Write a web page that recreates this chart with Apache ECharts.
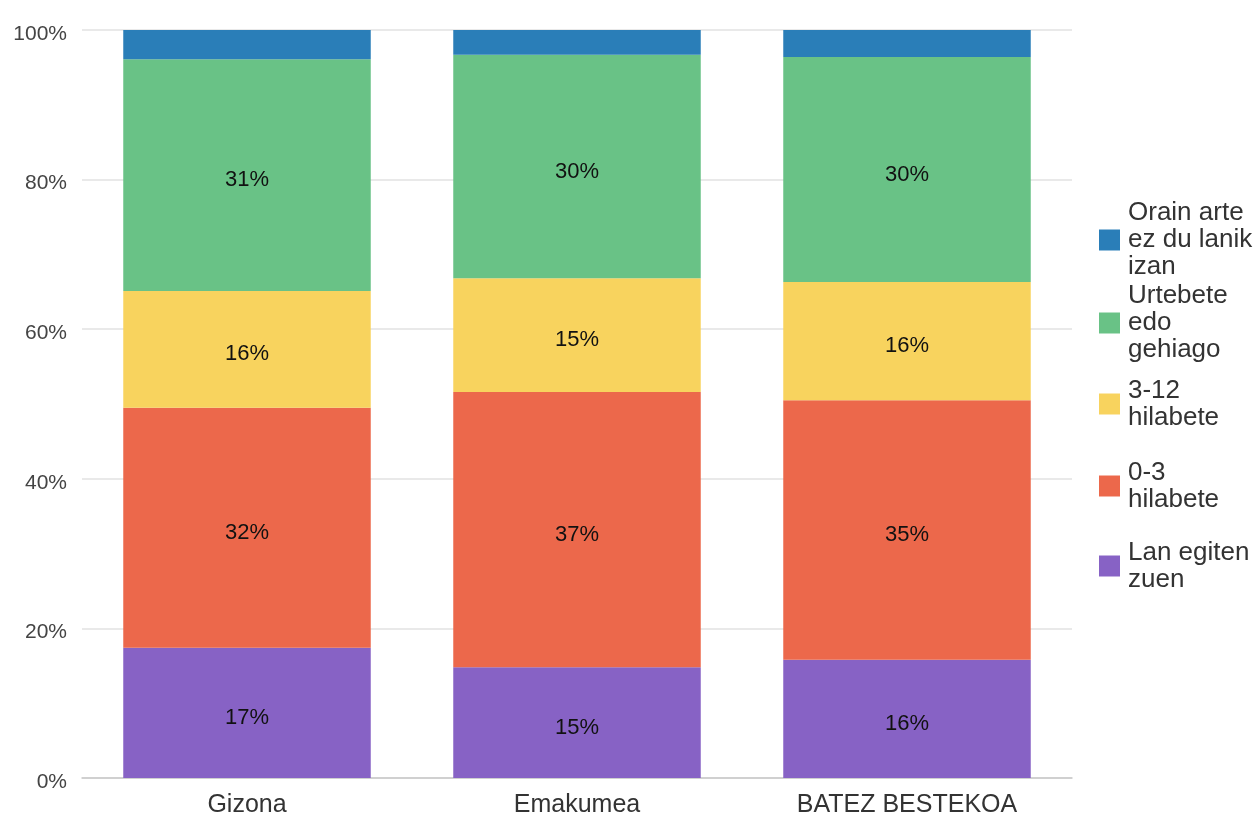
<!DOCTYPE html>
<html>
<head>
<meta charset="utf-8">
<script src="https://cdn.jsdelivr.net/npm/echarts@6/dist/echarts.min.js"></script>
<style>
  html, body { margin: 0; padding: 0; background: #fff; }
  #main { width: 1256px; height: 814px; }
</style>
</head>
<body>
<div id="main"></div>
<script>
// kategoriak
var categories = ["Gizona", "Emakumea", "BATEZ BESTEKOA"];
// serieak (behetik gora)
var seriesNames = ["Lan egiten zuen", "0-3 hilabete", "3-12 hilabete", "Urtebete edo gehiago", "Orain arte ez du lanik izan"];
var legendLabels = ["Lan egiten\nzuen", "0-3\nhilabete", "3-12\nhilabete", "Urtebete\nedo\ngehiago", "Orain arte\nez du lanik\nizan"];
var lanEgitenZuen = [17.4, 14.8, 15.8];
var hilabete0_3 = [32.1, 36.8, 34.7];
var hilabete3_12 = [15.6, 15.2, 15.8];
var urtebeteEdoGehiago = [31.0, 29.9, 30.1];
var orainArte = [3.9, 3.3, 3.6];
var yTicks = [0, 20, 40, 60, 80, 100];

var colors = ["#8762c5", "#ec684b", "#f8d35e", "#69c286", "#2a7eb8"];
var values = [lanEgitenZuen, hilabete0_3, hilabete3_12, urtebeteEdoGehiago, orainArte];

var myChart = echarts.init(document.getElementById("main"));

var font = "Liberation Sans, Arial, sans-serif";
var lineH = 26.7;

// legenda: goitik behera, urdina lehenik
var legendOrder = [4, 3, 2, 1, 0];
var legendCenters = [240, 323, 404, 486, 566];
var legends = legendOrder.map(function (idx, i) {
  var lines = legendLabels[idx].split("\n").length;
  return {
    data: [seriesNames[idx]],
    left: 1099,
    top: legendCenters[i] - (lines * lineH) / 2 - 3,
    orient: "vertical",
    itemWidth: 21,
    itemHeight: 21,
    icon: "rect",
    selectedMode: false,
    padding: 0,
    itemGap: 0,
    formatter: function (name) {
      return legendLabels[seriesNames.indexOf(name)];
    },
    textStyle: {
      fontFamily: font,
      fontSize: 26,
      lineHeight: lineH,
      color: "#333",
      padding: [6, 0, 0, 3]
    }
  };
});

var series = seriesNames.map(function (name, i) {
  return {
    name: name,
    type: "bar",
    stack: "total",
    barWidth: "75%",
    itemStyle: { color: colors[i] },
    label: {
      show: i !== 4,
      position: "inside",
      fontFamily: font,
      fontSize: 22,
      color: "#111",
      offset: [0, 5],
      formatter: function (p) {
        return Math.round(p.value) + "%";
      }
    },
    data: values[i]
  };
});

myChart.setOption({
  animation: false,
  color: colors,
  grid: { left: 82, right: 184, top: 30, bottom: 36, containLabel: false, outerBoundsMode: "none" },
  legend: legends,
  xAxis: {
    type: "category",
    data: categories,
    axisTick: { show: false },
    axisLine: { lineStyle: { color: "#c8c8c8", width: 1.5 } },
    axisLabel: { fontFamily: font, fontSize: 25, color: "#333", margin: 15 }
  },
  yAxis: {
    type: "value",
    min: yTicks[0],
    max: yTicks[yTicks.length - 1],
    interval: 20,
    axisLine: { show: false },
    axisTick: { show: false },
    splitLine: { lineStyle: { color: "#e2e2e2", width: 1.5 } },
    axisLabel: {
      margin: 15,
      formatter: function (v) {
        return "{s|}\n{v|" + v + "%}";
      },
      rich: {
        s: { height: 8, fontSize: 8 },
        v: { fontFamily: font, fontSize: 21, color: "#444" }
      }
    }
  },
  series: series
});
</script>
</body>
</html>
